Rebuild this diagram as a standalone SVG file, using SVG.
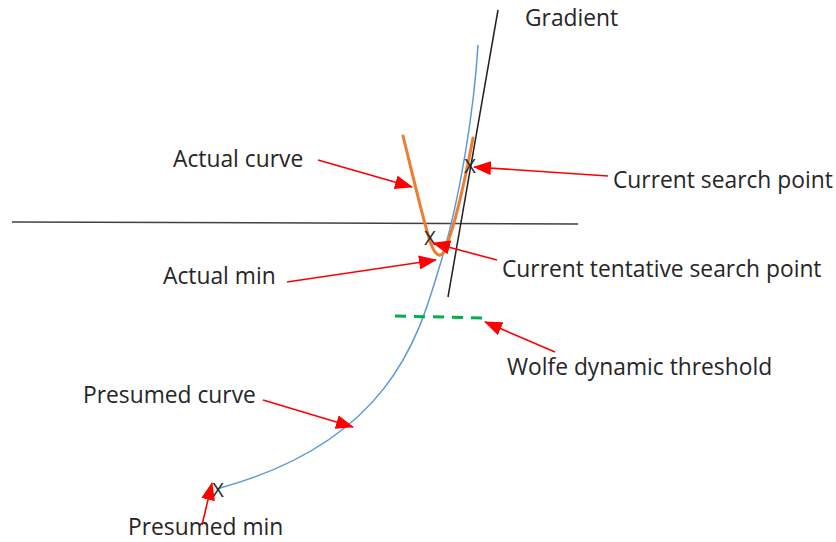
<svg xmlns="http://www.w3.org/2000/svg" width="836" height="542" viewBox="0 0 836 542">
<style>
text{font-family:"Open Sans","Liberation Sans",sans-serif;fill:#262626}
.lbl{font-size:22.8px}
.mk{font-size:20px;text-anchor:middle}
.arr{stroke:#FF0000;stroke-width:1.6;fill:none;marker-end:url(#ah)}
</style>
<defs>
<marker id="ah" markerUnits="userSpaceOnUse" markerWidth="18" markerHeight="14" refX="17" refY="7" orient="auto">
<path d="M0,0 L18,7 L0,14 Z" fill="#FF0000"/>
</marker>
</defs>
<rect width="836" height="542" fill="#FFFFFF"/>
<g id="axis"><line x1="12" y1="222" x2="578" y2="224" stroke="#404040" stroke-width="1.5"/></g>
<g id="gradient-line"><line x1="498" y1="10" x2="448" y2="297" stroke="#202020" stroke-width="1.5"/></g>
<g id="presumed-curve"><path d="M478,45 C474,110 460,200 440,265 C420,330 395,440 220,488" fill="none" stroke="#5B9BD5" stroke-width="1.5"/></g>
<g id="actual-curve"><path d="M403,136 C412,172 422,215 429,238 C434,255 440,260 445,250 C455,225 466,175 473,138" fill="none" stroke="#ED7D31" stroke-width="3" stroke-linecap="round" stroke-linejoin="round"/></g>
<g id="wolfe-threshold"><line x1="395" y1="316" x2="486" y2="318" stroke="#00B050" stroke-width="3" stroke-dasharray="11,8"/></g>
<g id="marks">
<text class="mk" x="470" y="173">X</text>
<text class="mk" x="430" y="245">X</text>
<text class="mk" x="218" y="497">X</text>
</g>
<g id="labels">
<text id="gradient" class="lbl" x="525" y="26">Gradient</text>
<text id="actual-curve-label" class="lbl" x="173" y="167">Actual curve</text>
<text id="actual-min-label" class="lbl" x="163" y="284">Actual min</text>
<text id="current-search-label" class="lbl" x="613" y="188">Current search point</text>
<text id="tentative-label" class="lbl" x="502" y="277">Current tentative search point</text>
<text id="wolfe-label" class="lbl" x="507" y="375">Wolfe dynamic threshold</text>
<text id="presumed-curve-label" class="lbl" x="83" y="403">Presumed curve</text>
<text id="presumed-min-label" class="lbl" x="128" y="535">Presumed min</text>
</g>
<g id="connectors">
<line class="arr" x1="318" y1="160" x2="412" y2="187"/>
<line class="arr" x1="287" y1="282" x2="436" y2="260"/>
<line class="arr" x1="497" y1="260" x2="433" y2="243"/>
<line class="arr" x1="608" y1="176" x2="474" y2="167"/>
<line class="arr" x1="555" y1="352" x2="485" y2="322"/>
<line class="arr" x1="263" y1="400" x2="353" y2="427"/>
<line class="arr" x1="202" y1="525" x2="212" y2="483"/>
</g>
</svg>
